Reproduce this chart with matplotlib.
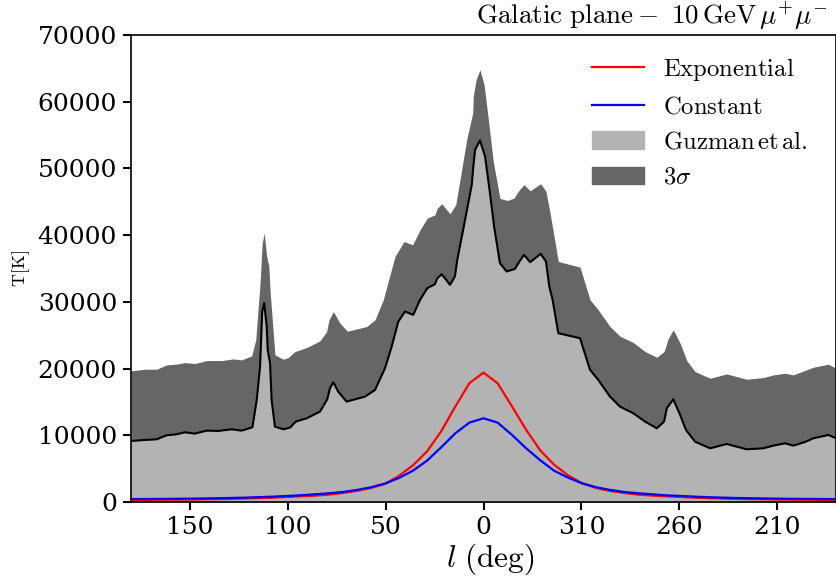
import numpy as np
import matplotlib
matplotlib.use("Agg")
import matplotlib.pyplot as plt
from matplotlib.patches import Patch
from matplotlib.lines import Line2D

plt.rcParams["mathtext.fontset"] = "cm"
plt.rcParams["font.family"] = "DejaVu Serif"

# ---- Guzman et al. (courbe noire) : longitude galactique l (deg) et T (K) ----
l_guzman = [180, 172.9, 166.9, 161.8, 156.7, 152.5, 147.4, 141.4, 135.4, 128.6,
            123.5, 118.0, 115.8, 114.1, 113.0, 112.0, 110.7, 110.2, 109.0, 108.2,
            106.5, 102.2, 98.8, 95.9, 90.3, 83.5, 79.8, 78.4, 76.7, 74.2,
            69.9, 60.5, 55.4, 50.3, 46.9, 43.5, 40.1, 35.9, 32.4, 28.7,
            24.8, 23.6, 21.3, 17.1, 14.6, 13.4, 9.4, 6.0, 5.2, 4.3,
            1.8, -0.8, -3.3, -5.4, -8.4, -11.8, -16.1, -18.3, -20.7, -23.8,
            -29.2, -31.9, -33.6, -35.3, -38.2, -49.3, -54.4, -58.6, -64.6, -69.7,
            -76.5, -82.5, -88.5, -92.2, -93.6, -96.9, -100.4, -103.4, -108.0, -115.7,
            -124.2, -134.4, -142.9, -148.0, -154.0, -158.2, -164.2, -168.4, -176.1, -180]
T_guzman = [9150, 9300, 9400, 10000, 10150, 10450, 10250, 10700, 10650, 10900,
            10700, 11200, 15300, 20300, 28550, 29800, 26300, 22800, 20800, 15300,
            11300, 10900, 11150, 12050, 12550, 13550, 15400, 17050, 17950, 16550,
            15050, 15800, 16800, 20050, 23300, 27050, 28550, 28050, 30300, 32050,
            32650, 33550, 34150, 32550, 33800, 36300, 42300, 47550, 50300, 52800,
            54200, 51800, 46300, 41300, 35800, 34550, 34950, 36050, 37050, 35950,
            37200, 36050, 32300, 30300, 25300, 24550, 19800, 18300, 15800, 14300,
            13300, 12050, 11050, 12050, 14050, 15400, 13050, 10800, 9050, 8050,
            8700, 7900, 8050, 8450, 8800, 8450, 9000, 9550, 10050, 9550]

# ---- bande 3 sigma (bord supérieur) ----
l_3sig = [180, 172.9, 166.9, 161.8, 155.9, 152.5, 147.4, 141.4, 133.7, 127.8,
          123.5, 118.4, 116.3, 114.1, 113.0, 112.0, 110.7, 109.6, 108.9, 106.5,
          102.2, 99.7, 96.3, 90.3, 83.5, 80.1, 78.9, 76.7, 73.3, 69.5,
          59.7, 55.4, 51.2, 45.2, 40.6, 36.2, 32.4, 28.7, 24.8, 23.6,
          21.3, 17.1, 14.2, 12.0, 8.6, 5.5, 5.2, 3.8, 1.8, -0.3,
          -2.5, -5.0, -8.4, -12.2, -15.6, -18.3, -20.7, -23.8, -29.2, -31.9,
          -34.0, -38.2, -49.3, -54.4, -58.6, -64.6, -69.7, -76.5, -82.5, -88.5,
          -92.2, -94.4, -96.9, -100.4, -103.8, -108.0, -115.7, -124.2, -134.4, -142.9,
          -148.0, -154.0, -158.2, -168.4, -176.1, -180]
T_3sig = [19650, 19900, 19900, 20550, 20700, 20900, 20750, 21200, 21200, 21450,
          21300, 21900, 24300, 32800, 38800, 40300, 36800, 35300, 31300, 22050,
          21400, 21650, 22550, 23150, 24150, 25550, 27300, 28550, 26800, 25600,
          26300, 27300, 30300, 36800, 39050, 38550, 40800, 42550, 43050, 44050,
          44700, 43200, 44550, 48300, 54300, 58300, 60800, 63300, 64800, 62550,
          57300, 51000, 45500, 45200, 45550, 46800, 47550, 46650, 47700, 46550,
          43300, 36050, 35200, 30300, 28800, 26300, 24850, 23900, 22550, 21700,
          22550, 24550, 25800, 23800, 21200, 19550, 18550, 19200, 18400, 18650,
          19050, 19300, 19050, 20200, 20650, 20050]

# ---- modèles : grille de 7.2 deg, de l=180 à l=-180 ----
l_model = np.linspace(180, -180, 51)
T_exp = [310, 320, 330, 350, 370, 400, 430, 470, 520, 580,
         650, 750, 850, 950, 1100, 1350, 1650, 2100, 2700, 3900,
         5500, 7600, 10600, 14300, 17800, 19400, 17800, 14400, 10900, 7800,
         5600, 4000, 2800, 2100, 1650, 1350, 1100, 950, 850, 750,
         650, 580, 520, 470, 430, 400, 370, 350, 330, 320, 310]
T_const = [440, 450, 460, 480, 500, 530, 560, 600, 650, 720,
           800, 900, 1000, 1150, 1300, 1500, 1800, 2200, 2750, 3600,
           4700, 6200, 8200, 10300, 11900, 12550, 11900, 10100, 8100, 6300,
           4700, 3650, 2800, 2200, 1800, 1500, 1300, 1150, 1000, 900,
           800, 720, 650, 600, 560, 530, 500, 480, 460, 450, 440]

xticks = [150, 100, 50, 0, -50, -100, -150]
xticklabels = ["150", "100", "50", "0", "310", "260", "210"]

fig = plt.figure(figsize=(8.36, 5.76), dpi=100)
ax = fig.add_axes([131 / 836, 74 / 576, 705 / 836, 467 / 576])

ax.fill_between(l_3sig, 0, T_3sig, color="#666666", lw=0)
ax.fill_between(l_guzman, 0, T_guzman, color="#b3b3b3", lw=0)
ax.plot(l_guzman, T_guzman, color="k", lw=1.5)
ax.plot(l_model, T_exp, color="red", lw=1.6)
ax.plot(l_model, T_const, color="blue", lw=1.6)

ax.set_xlim(180, -180)
ax.set_ylim(0, 70000)
ax.set_xticks(xticks)
ax.set_xticklabels(xticklabels)
ax.set_yticks(np.arange(0, 70001, 10000))
ax.tick_params(direction="out", length=6, width=1.5, labelsize=18, pad=4)
for s in ax.spines.values():
    s.set_linewidth(1.2)

ax.set_xlabel(r"$l\ (\mathrm{deg})$", fontsize=22.5, labelpad=1)
ax.xaxis.set_label_coords(0.51, -0.085)
ax.set_ylabel(r"$\mathrm{T[K]}$", fontsize=13, labelpad=4)
# titre en haut à droite, au ras du bord
ax.text(0.988, 1.004, r"$\mathrm{Galatic\ plane}-\ 10\,\mathrm{GeV}\,\mu^{+}\mu^{-}$",
        transform=ax.transAxes, ha="right", va="bottom", fontsize=19.5)

handles = [Line2D([], [], color="red", lw=1.6),
           Line2D([], [], color="blue", lw=1.6),
           Patch(color="#b3b3b3"),
           Patch(color="#666666")]
labels = [r"$\mathrm{Exponential}$", r"$\mathrm{Constant}$",
          r"$\mathrm{Guzman\,et\,al.}$", r"$3\sigma$"]
ax.legend(handles, labels, loc="upper right", bbox_to_anchor=(0.992, 1.003),
          frameon=False, fontsize=17.8, handlelength=2.1, handletextpad=0.8,
          labelspacing=0.5)

plt.savefig("out.png", dpi=100)
